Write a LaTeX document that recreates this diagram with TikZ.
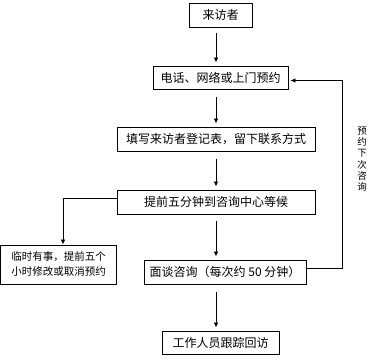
\documentclass[tikz,border=0pt]{standalone}
\usepackage{fontspec}
\newfontfamily\cjk{Noto Sans CJK SC}
\usetikzlibrary{arrows.meta,calc}
\begin{document}
\begin{tikzpicture}[x=1pt,y=-1pt,
  box/.style={draw,line width=0.9pt,inner sep=0pt,font=\cjk\fontsize{12}{14}\selectfont},
  arr/.style={line width=0.8pt,-{Latex[length=5pt,width=4.5pt]}},
  ln/.style={line width=0.8pt}]
\useasboundingbox (0,0) rectangle (383,361);
\node[box,minimum width=63pt,minimum height=24pt] (a) at (220.5,15) {来访者};
\node[box,minimum width=135pt,minimum height=23pt] (b) at (220.5,77.5) {电话、网络或上门预约};
\node[box,minimum width=198pt,minimum height=24pt] (c) at (216,139) {填写来访者登记表，留下联系方式};
\node[box,minimum width=198pt,minimum height=24pt] (d) at (216,202) {提前五分钟到咨询中心等候};
\node[box,minimum width=116pt,minimum height=39pt,align=left,font=\cjk\fontsize{10.5}{15}\selectfont] (e) at (58.5,264.5) {临时有事，提前五个\\小时修改或取消预约};
\node[box,minimum width=162pt,minimum height=24pt] (f) at (225,272) {面谈咨询（每次约 50 分钟）};
\node[box,minimum width=117pt,minimum height=23pt] (g) at (220.5,342.5) {工作人员跟踪回访};
\coordinate (ax) at (216,0);
\coordinate (lx) at (63,0);
\coordinate (rx) at (342,0);
\draw[arr,shorten <=6pt,shorten >=3pt] (a.south -| ax) -- (b.north -| ax);
\draw[arr,shorten <=8pt,shorten >=3pt] (b.south -| ax) -- (c.north -| ax);
\draw[arr,shorten <=8pt,shorten >=3pt] (c.south -| ax) -- (d.north -| ax);
\draw[arr,shorten <=7pt,shorten >=3pt] (d.south -| ax) -- (f.north -| ax);
\draw[arr,shorten <=8pt,shorten >=3pt] (f.south -| ax) -- (g.north -| ax);
\coordinate (dl) at ($(d.west)+(0,-4)$);
\draw[arr] (dl) -| (e.north -| lx);
\coordinate (fr) at ($(f.east)+(0,-4)$);
\coordinate (br) at ($(b.east)+(0,3)$);
\draw[arr,shorten >=2pt] (fr) -- (fr -| rx) |- (br);
\node[font=\cjk\fontsize{9.5}{11.3}\selectfont,align=center,inner sep=0pt] (lab) at (362,159) {预\\约\\下\\次\\咨\\询};
\end{tikzpicture}
\end{document}
